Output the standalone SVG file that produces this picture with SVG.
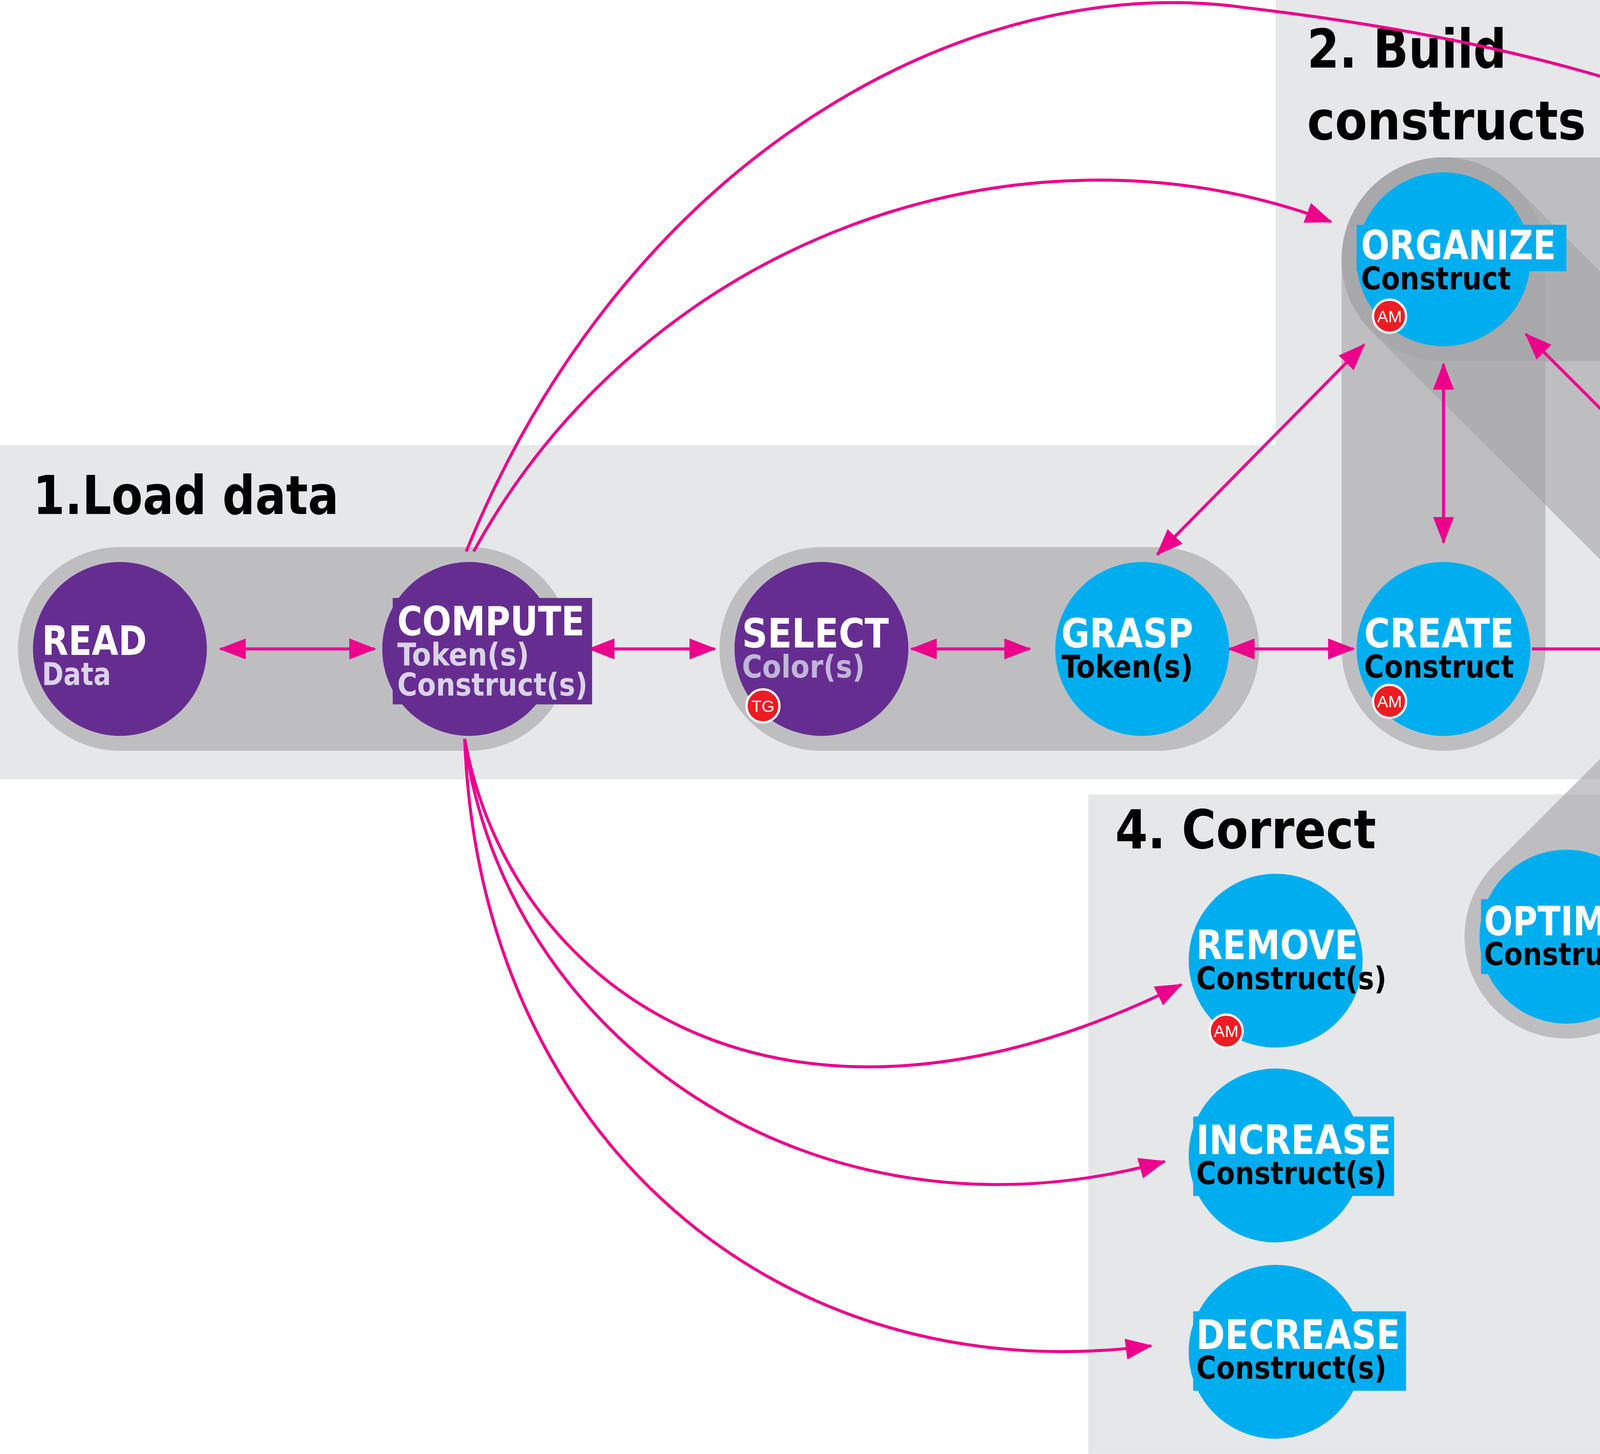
<svg xmlns="http://www.w3.org/2000/svg" width="6017" height="3723" viewBox="0 0 6017 3723">
<defs>
<style>
.panel{fill:#e6e7e8}
.band{stroke:#a3a4a7;stroke-opacity:.6;stroke-linecap:round;fill:none;stroke-width:136}
.b{fill:#00aeef}.p{fill:#662d91}
.t{font-family:"DejaVu Sans Condensed","DejaVu Sans",sans-serif;font-weight:bold;font-size:27px;fill:#fff}
.s{font-family:"DejaVu Sans Condensed","DejaVu Sans",sans-serif;font-weight:bold;font-size:21px;fill:#000}
.sp{fill:#d9d3e8}.sg{fill:#c0b6d6}
.h{font-family:"DejaVu Sans Condensed","DejaVu Sans",sans-serif;font-weight:bold;font-size:36px;fill:#000}
.badge{fill:#ed1c24;stroke:#fff;stroke-width:1.5}
.bt{font-family:"Liberation Sans",sans-serif;font-size:11px;fill:#fff;text-anchor:middle}
.c{stroke:#ec008c;stroke-width:2;fill:none;marker-end:url(#ah)}
.d{marker-start:url(#as)}
</style>
<marker id="ah" viewBox="0 0 18 14" refX="17" refY="7" markerWidth="18" markerHeight="14" orient="auto" markerUnits="userSpaceOnUse"><path d="M0,0L18,7L0,14z" fill="#ec008c"/></marker>
<marker id="as" viewBox="0 0 18 14" refX="1" refY="7" markerWidth="18" markerHeight="14" orient="auto" markerUnits="userSpaceOnUse"><path d="M18,0L0,7L18,14z" fill="#ec008c"/></marker>
</defs>
<rect width="6017" height="3723" fill="#fff"/>
<g transform="scale(3.8374)">
<g id="panels">
<rect class="panel" x="0" y="297" width="1085" height="223"/>
<rect class="panel" x="851" y="0" width="225" height="505"/>
<rect class="panel" x="1100" y="0" width="462" height="340"/>
<rect class="panel" x="726" y="530" width="360" height="440"/>
<text class="h" x="22" y="343" textLength="204" lengthAdjust="spacingAndGlyphs">1.Load data</text>
<text class="h" x="872" y="45" textLength="133" lengthAdjust="spacingAndGlyphs">2. Build</text>
<text class="h" x="872" y="93" textLength="186" lengthAdjust="spacingAndGlyphs">constructs</text>
<text class="h" x="1113" y="45" textLength="384" lengthAdjust="spacingAndGlyphs">3.Combine constructs</text>
<text class="h" x="744" y="566" textLength="174" lengthAdjust="spacingAndGlyphs">4. Correct</text>
</g>
<g id="bands">
<line class="band" x1="80" y1="433" x2="313" y2="433"/>
<line class="band" x1="548" y1="433" x2="772" y2="433"/>
<line class="band" x1="963" y1="173" x2="963" y2="433"/>
<line class="band" x1="963" y1="173" x2="1230" y2="173"/>
<line class="band" x1="1230" y1="173" x2="1230" y2="683"/>
<line class="band" x1="1230" y1="433" x2="1497" y2="433"/>
<line class="band" x1="1417" y1="253" x2="1045" y2="625"/>
<line class="band" x1="963" y1="173" x2="1418" y2="627"/>
</g>
<g id="connectors">
<line class="c d" x1="147" y1="433" x2="250" y2="433"/>
<line class="c d" x1="393" y1="433" x2="477" y2="433"/>
<line class="c d" x1="608" y1="433" x2="687" y2="433"/>
<line class="c d" x1="820" y1="433" x2="903" y2="433"/>
<line class="c" x1="1022" y1="433" x2="1168" y2="433"/>
<line class="c" x1="1305" y1="436" x2="1432" y2="436"/>
<line class="c d" x1="772" y1="370" x2="910" y2="230"/>
<line class="c d" x1="963" y1="243" x2="963" y2="362"/>
<line class="c d" x1="1018" y1="223" x2="1175" y2="380"/>
<line class="c" x1="1230" y1="378" x2="1230" y2="245"/>
<line class="c" x1="1270" y1="393" x2="1362" y2="298"/>
<line class="c" x1="1188" y1="472" x2="1097" y2="565"/>
<line class="c" x1="1230" y1="492" x2="1230" y2="622"/>
<line class="c" x1="1270" y1="475" x2="1362" y2="567"/>
<path class="c" d="M311,368 C420,100 650,-20 830,5 C1000,25 1120,60 1203,105"/>
<path class="c" d="M316,368 C430,160 680,70 888,148"/>
<path class="c" d="M310,493 C340,660 520,790 788,657"/>
<path class="c" d="M310,493 C335,690 540,840 777,775"/>
<path class="c" d="M310,493 C320,760 520,930 768,898"/>
</g>
<g id="read"><circle class="p" cx="80" cy="433" r="58"/><text class="t" x="28" y="437" textLength="70" lengthAdjust="spacingAndGlyphs">READ</text><text class="s sp" x="28" y="457" textLength="46" lengthAdjust="spacingAndGlyphs">Data</text></g>
<g id="compute"><circle class="p" cx="313" cy="433" r="58"/><rect class="p" x="262" y="399" width="133" height="71"/><text class="t" x="265" y="424" textLength="125" lengthAdjust="spacingAndGlyphs">COMPUTE</text><text class="s sp" x="265" y="444" textLength="88" lengthAdjust="spacingAndGlyphs">Token(s)</text><text class="s sp" x="265" y="464" textLength="127" lengthAdjust="spacingAndGlyphs">Construct(s)</text></g>
<g id="select"><circle class="p" cx="548" cy="433" r="58"/><text class="t" x="495" y="432" textLength="98" lengthAdjust="spacingAndGlyphs">SELECT</text><text class="s sg" x="495" y="452" textLength="82" lengthAdjust="spacingAndGlyphs">Color(s)</text><circle class="badge" cx="509" cy="471" r="11"/><text class="bt" x="509" y="475">TG</text></g>
<g id="grasp"><circle class="b" cx="762" cy="433" r="58"/><text class="t" x="708" y="432" textLength="88" lengthAdjust="spacingAndGlyphs">GRASP</text><text class="s" x="708" y="452" textLength="88" lengthAdjust="spacingAndGlyphs">Token(s)</text></g>
<g id="create"><circle class="b" cx="963" cy="433" r="58"/><text class="t" x="910" y="432" textLength="100" lengthAdjust="spacingAndGlyphs">CREATE</text><text class="s" x="910" y="452" textLength="100" lengthAdjust="spacingAndGlyphs">Construct</text><circle class="badge" cx="927" cy="468" r="11"/><text class="bt" x="927" y="472">AM</text></g>
<g id="organize"><circle class="b" cx="963" cy="173" r="58"/><rect class="b" x="905" y="150" width="140" height="31"/><text class="t" x="908" y="173" textLength="130" lengthAdjust="spacingAndGlyphs">ORGANIZE</text><text class="s" x="908" y="193" textLength="100" lengthAdjust="spacingAndGlyphs">Construct</text><circle class="badge" cx="927" cy="211" r="11"/><text class="bt" x="927" y="215">AM</text></g>
<g id="arrange"><circle class="b" cx="1230" cy="173" r="58"/><rect class="b" x="1172" y="150" width="128" height="31"/><text class="t" x="1175" y="172" textLength="125" lengthAdjust="spacingAndGlyphs">ARRANGE</text><text class="s" x="1175" y="193" textLength="112" lengthAdjust="spacingAndGlyphs">Constructs</text><circle class="badge" cx="1188" cy="214" r="11"/><text class="bt" x="1188" y="218">AM</text></g>
<g id="align"><circle class="b" cx="1427" cy="243" r="58"/><text class="t" x="1371" y="241" textLength="78" lengthAdjust="spacingAndGlyphs">ALIGN</text><text class="s" x="1371" y="261" textLength="112" lengthAdjust="spacingAndGlyphs">Constructs</text></g>
<g id="move"><circle class="b" cx="1230" cy="433" r="58"/><rect class="b" x="1172" y="430" width="133" height="30"/><text class="t" x="1175" y="431" textLength="72" lengthAdjust="spacingAndGlyphs">MOVE</text><text class="s" x="1175" y="451" textLength="127" lengthAdjust="spacingAndGlyphs">Construct(s)</text></g>
<g id="rotate"><circle class="b" cx="1497" cy="433" r="58"/><text class="t" x="1441" y="431" textLength="97" lengthAdjust="spacingAndGlyphs">ROTATE</text><text class="s" x="1441" y="451" textLength="112" lengthAdjust="spacingAndGlyphs">Constructs</text></g>
<g id="optimize"><circle class="b" cx="1045" cy="625" r="58"/><rect class="b" x="988" y="600" width="130" height="50"/><text class="t" x="990" y="624" textLength="122" lengthAdjust="spacingAndGlyphs">OPTIMIZE</text><text class="s" x="990" y="644" textLength="127" lengthAdjust="spacingAndGlyphs">Construct(s)</text></g>
<g id="merge"><circle class="b" cx="1230" cy="683" r="58"/><text class="t" x="1174" y="681" textLength="92" lengthAdjust="spacingAndGlyphs">MERGE</text><text class="s" x="1174" y="701" textLength="112" lengthAdjust="spacingAndGlyphs">Constructs</text></g>
<g id="split"><circle class="b" cx="1418" cy="627" r="58"/><rect class="b" x="1362" y="623" width="128" height="22"/><text class="t" x="1362" y="622" textLength="73" lengthAdjust="spacingAndGlyphs">SPLIT</text><text class="s" x="1362" y="641" textLength="127" lengthAdjust="spacingAndGlyphs">Construct(s)</text></g>
<g id="remove"><circle class="b" cx="851" cy="641" r="58"/><text class="t" x="798" y="640" textLength="108" lengthAdjust="spacingAndGlyphs">REMOVE</text><text class="s" x="798" y="660" textLength="127" lengthAdjust="spacingAndGlyphs">Construct(s)</text><circle class="badge" cx="818" cy="688" r="11"/><text class="bt" x="818" y="692">AM</text></g>
<g id="increase"><circle class="b" cx="851" cy="771" r="58"/><rect class="b" x="796" y="745" width="134" height="53"/><text class="t" x="798" y="770" textLength="130" lengthAdjust="spacingAndGlyphs">INCREASE</text><text class="s" x="798" y="790" textLength="127" lengthAdjust="spacingAndGlyphs">Construct(s)</text></g>
<g id="decrease"><circle class="b" cx="851" cy="902" r="58"/><rect class="b" x="796" y="875" width="142" height="53"/><text class="t" x="798" y="900" textLength="136" lengthAdjust="spacingAndGlyphs">DECREASE</text><text class="s" x="798" y="920" textLength="127" lengthAdjust="spacingAndGlyphs">Construct(s)</text></g>
</g>
</svg>
